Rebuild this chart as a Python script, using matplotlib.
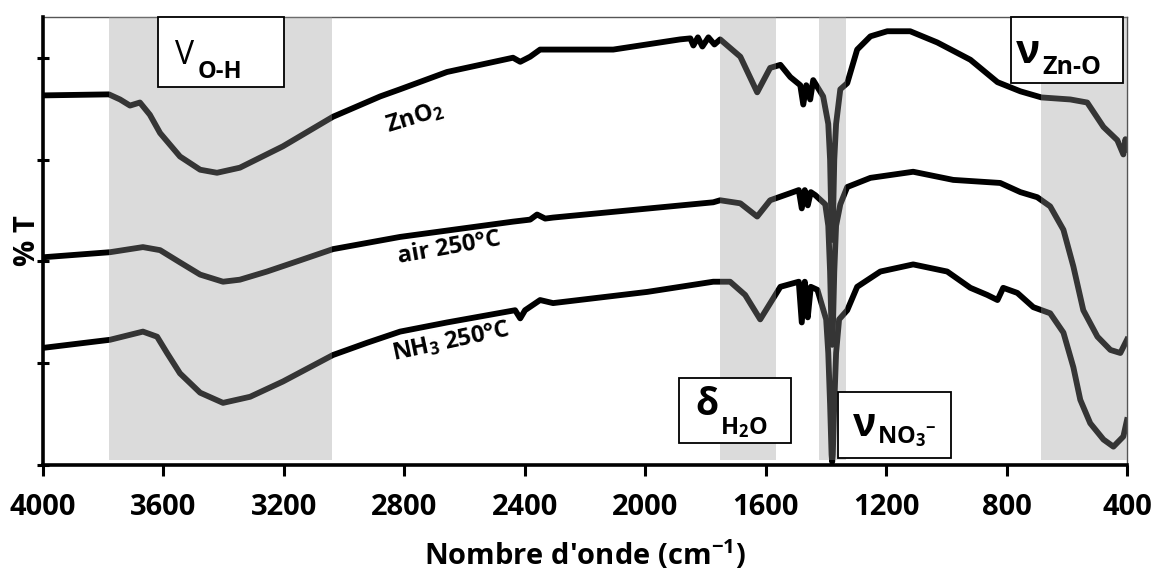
import matplotlib
matplotlib.use('Agg')
import matplotlib.pyplot as plt
from matplotlib.patches import Rectangle

plt.rcParams['font.family'] = ['Open Sans', 'DejaVu Sans']
plt.rcParams['font.weight'] = 'bold'
plt.rcParams['mathtext.default'] = 'regular'

# FTIR spectra (wavenumber in cm-1, %T in arbitrary units)
wn_zno2 = [4000, 3781, 3744, 3711, 3678, 3645, 3611, 3545, 3478, 3422, 3346, 3203, 3037,
           2880, 2814, 2658, 2439, 2415, 2382, 2349, 2106, 1884, 1850, 1840, 1825, 1810,
           1790, 1770, 1751, 1684, 1628, 1585, 1551, 1518, 1485, 1475, 1465, 1452, 1442,
           1409, 1392, 1386, 1381, 1379, 1377, 1372, 1366, 1352, 1329, 1296, 1252, 1196,
           1120, 1030, 920, 830, 754, 684, 588, 532, 478, 432, 412, 405, 400]
t_zno2 = [3.63, 3.64, 3.59, 3.53, 3.56, 3.44, 3.26, 3.03, 2.90, 2.87, 2.92, 3.13, 3.42,
          3.62, 3.69, 3.86, 4.00, 3.96, 4.01, 4.08, 4.08, 4.18, 4.19, 4.12, 4.20, 4.11,
          4.20, 4.13, 4.18, 4.01, 3.66, 3.90, 3.93, 3.81, 3.73, 3.54, 3.73, 3.59, 3.78,
          3.62, 3.35, 3.00, 2.30, 2.21, 2.30, 3.00, 3.35, 3.69, 3.75, 4.08, 4.21, 4.26,
          4.26, 4.15, 3.98, 3.76, 3.67, 3.61, 3.59, 3.56, 3.32, 3.19, 3.05, 3.20, 3.10]

wn_air = [4000, 3777, 3668, 3611, 3545, 3478, 3402, 3346, 3256, 3146, 3037, 2814, 2439,
          2382, 2359, 2332, 2306, 1774, 1751, 1684, 1628, 1585, 1518, 1490, 1480, 1470,
          1460, 1450, 1435, 1402, 1392, 1386, 1381, 1379, 1377, 1372, 1366, 1352, 1329,
          1252, 1110, 977, 821, 754, 698, 655, 611, 578, 545, 498, 455, 422, 400]
t_air = [2.04, 2.09, 2.14, 2.11, 1.99, 1.87, 1.80, 1.82, 1.90, 2.01, 2.12, 2.24, 2.39,
         2.41, 2.46, 2.42, 2.43, 2.58, 2.60, 2.57, 2.44, 2.60, 2.67, 2.70, 2.52, 2.70,
         2.55, 2.68, 2.65, 2.56, 2.35, 1.90, 1.30, 1.18, 1.30, 1.90, 2.35, 2.56, 2.73,
         2.82, 2.88, 2.80, 2.77, 2.68, 2.63, 2.54, 2.31, 1.95, 1.52, 1.26, 1.13, 1.10, 1.23]

wn_nh3 = [4000, 3777, 3668, 3621, 3588, 3545, 3478, 3402, 3312, 3203, 3037, 2924, 2814,
          2658, 2432, 2415, 2399, 2349, 2306, 1993, 1774, 1718, 1668, 1618, 1551, 1490,
          1480, 1470, 1460, 1450, 1428, 1399, 1392, 1386, 1381, 1379, 1377, 1372, 1366,
          1356, 1329, 1296, 1219, 1110, 997, 920, 864, 830, 811, 764, 711, 655, 611, 578,
          555, 522, 478, 445, 412, 400]
t_nh3 = [1.15, 1.23, 1.31, 1.26, 1.10, 0.90, 0.71, 0.61, 0.67, 0.82, 1.08, 1.20, 1.31,
         1.40, 1.52, 1.44, 1.52, 1.62, 1.59, 1.70, 1.80, 1.80, 1.67, 1.43, 1.75, 1.80,
         1.40, 1.80, 1.45, 1.75, 1.72, 1.43, 1.10, 0.60, 0.10, 0.03, 0.10, 0.60, 1.10,
         1.43, 1.52, 1.75, 1.90, 1.97, 1.90, 1.74, 1.67, 1.62, 1.74, 1.69, 1.55, 1.49,
         1.30, 0.96, 0.64, 0.41, 0.25, 0.18, 0.28, 0.44]

# shaded absorption bands (cm-1)
bands = [(3780, 3040), (1750, 1565), (1422, 1332), (684, 400)]
x_ticks = [4000, 3600, 3200, 2800, 2400, 2000, 1600, 1200, 800, 400]

fig = plt.figure(figsize=(11.58, 5.88), dpi=100)
ax = fig.add_axes([0.0371, 0.2092, 0.9361, 0.7619])

ax.plot(wn_zno2, t_zno2, color='black', lw=4.2, solid_joinstyle='round', zorder=2)
ax.plot(wn_air, t_air, color='black', lw=4.2, solid_joinstyle='round', zorder=2)
ax.plot(wn_nh3, t_nh3, color='black', lw=4.2, solid_joinstyle='round', zorder=2)

# grey bands drawn over the curves
for b in bands:
    ax.axvspan(b[0], b[1], ymin=0.012, ymax=1, facecolor='#9a9a9a', alpha=0.35,
               lw=0, zorder=3)

ax.set_xlim(4000, 400)
ax.set_ylim(0, 4.40)
ax.set_xticks(x_ticks)
ax.set_yticks([0, 1, 2, 3, 4])
ax.set_yticklabels([])
ax.tick_params(axis='x', direction='out', length=8, width=2.2, labelsize=21, pad=12)
ax.tick_params(axis='y', direction='inout', length=9, width=2.2)
for lab in ax.get_xticklabels():
    lab.set_fontweight('bold')

for s in ['left', 'bottom']:
    ax.spines[s].set_linewidth(2.6)
    ax.spines[s].set_zorder(6)
for s in ['top', 'right']:
    ax.spines[s].set_linewidth(1.0)
    ax.spines[s].set_color('#555555')

ax.set_xlabel("Nombre d'onde (cm$^{-1}$)", fontsize=21, fontweight='bold', labelpad=12)
ax.set_ylabel('% T', fontsize=21, fontweight='bold')
ax.yaxis.set_label_coords(-0.001, 0.5)

# sample names along the curves
ax.text(2764, 3.41, 'ZnO$_2$', fontsize=17, fontweight='bold', rotation=17,
        ha='center', va='center', zorder=4)
ax.text(2651, 2.13, 'air 250°C', fontsize=17, fontweight='bold', rotation=10,
        ha='center', va='center', zorder=4)
ax.text(2644, 1.21, 'NH$_3$ 250°C', fontsize=17, fontweight='bold', rotation=12,
        ha='center', va='center', zorder=4)


# boxed band assignments: symbol centred, subscript starting just right of it
def band_box(x0, x1, y0, y1, main, sub, xm, ym, xs, ys, fs_main, fs_sub, w_main='bold'):
    ax.add_patch(Rectangle((x0, y0), x1 - x0, y1 - y0, facecolor='white',
                           edgecolor='black', lw=1.3, zorder=5, clip_on=False))
    ax.text(xm, ym, main, fontsize=fs_main, fontweight=w_main, ha='center',
            va='center', zorder=6)
    ax.text(xs, ys, sub, fontsize=fs_sub, fontweight='bold', ha='left',
            va='center', zorder=6)


band_box(3618, 3199, 3.71, 4.40, 'V', 'O-H', 3530, 4.02, 3488, 3.86, 23, 17, 'normal')
band_box(784, 412, 3.75, 4.40, 'ν', 'Zn-O', 728, 4.05, 681, 3.90, 29, 18)
band_box(1887, 1515, 0.216, 0.855, 'δ', 'H$_2$O', 1794, 0.59, 1751, 0.37, 27, 17)
band_box(1359, 983, 0.069, 0.717, 'ν', 'NO$_3$$^{-}$', 1272, 0.39, 1229, 0.28, 28, 17)

plt.savefig('out.png', dpi=100)
